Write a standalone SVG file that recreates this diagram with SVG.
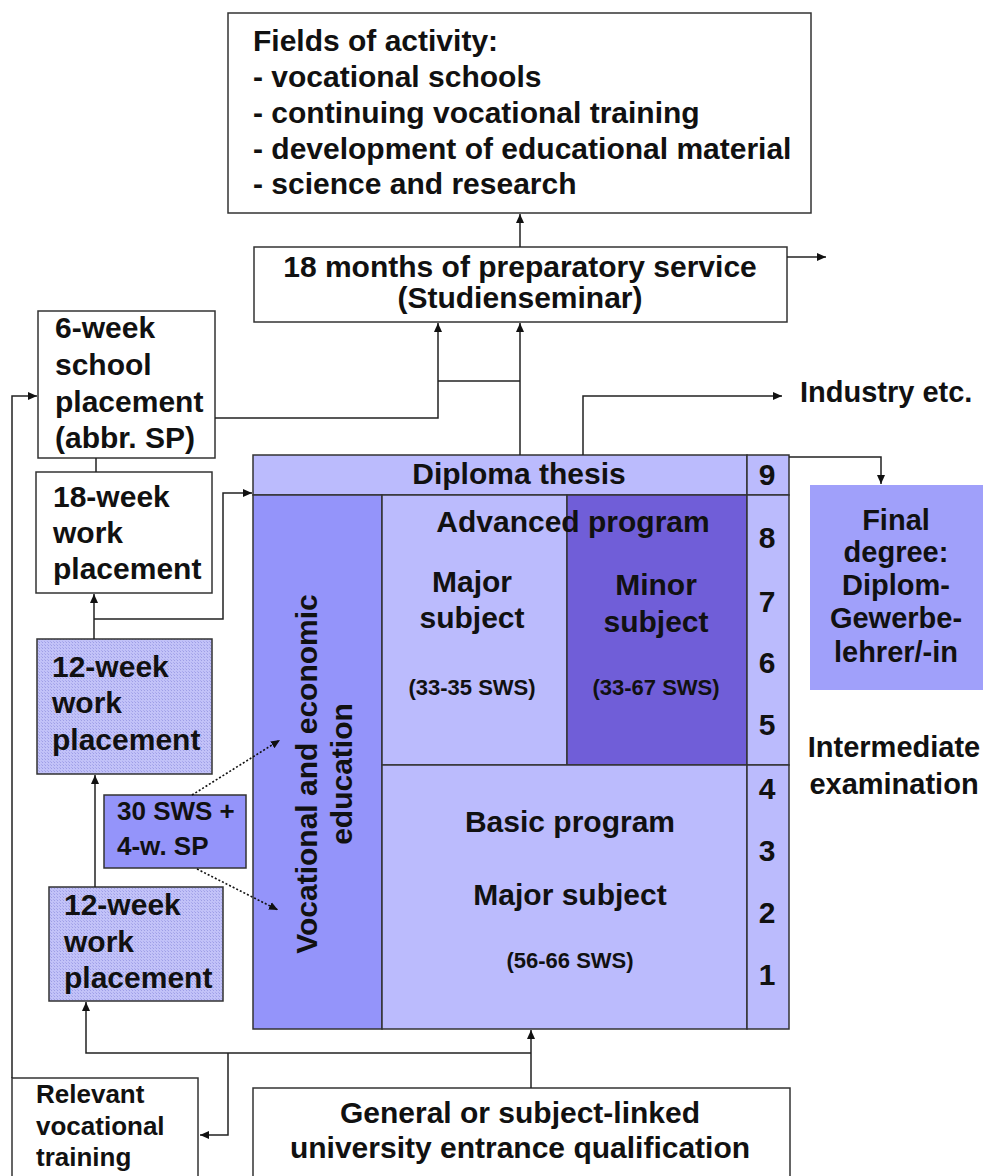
<svg xmlns="http://www.w3.org/2000/svg" width="985" height="1176" viewBox="0 0 985 1176">
<defs>
<style>
text{font-family:"Liberation Sans",Arial,sans-serif;font-weight:bold;fill:#111;}
.t30{font-size:30px;}
.t29{font-size:29px;}
.t26{font-size:26px;}
.t22{font-size:22px;}
.mid{text-anchor:middle;}
.box{fill:#fff;stroke:#333;stroke-width:1.5;}
.light{fill:#bbbbfd;stroke:#333;stroke-width:1.5;}
.med{fill:#9494fa;stroke:#333;stroke-width:1.5;}
.dark{fill:#705ed8;stroke:#333;stroke-width:1.5;}
.dith{fill:url(#dither);stroke:#333;stroke-width:1.5;}
.c{fill:none;stroke:#222;stroke-width:1.5;}
.d{fill:none;stroke:#111;stroke-width:1.6;stroke-dasharray:2 2;}
</style>
<pattern id="dither" width="3" height="3" patternUnits="userSpaceOnUse">
<rect width="3" height="3" fill="#c2c2f8"/>
<rect width="1" height="1" fill="#9e9ee6"/>
<rect x="2" y="2" width="1" height="1" fill="#aaaaee"/>
</pattern>
<marker id="ah" markerWidth="10" markerHeight="10" refX="9" refY="5" orient="auto" markerUnits="userSpaceOnUse">
<path d="M0,1 L9,5 L0,9 Z" fill="#111"/>
</marker>
</defs>

<g id="fields">
<rect class="box" x="228" y="13" width="583" height="200"/>
<text class="t30" x="253" y="51">Fields of activity:</text>
<text class="t30" x="253" y="87">- vocational schools</text>
<text class="t30" x="253" y="123">- continuing vocational training</text>
<text class="t30" x="253" y="159">- development of educational material</text>
<text class="t30" x="253" y="194">- science and research</text>
</g>

<g id="prep">
<rect class="box" x="254" y="247" width="533" height="75"/>
<text class="t30 mid" x="520" y="277">18 months of preparatory service</text>
<text class="t30 mid" x="520" y="308">(Studienseminar)</text>
</g>

<g id="industry">
<text class="t29" x="800" y="402">Industry etc.</text>
</g>

<g id="sp6">
<rect class="box" x="38" y="311" width="177" height="147"/>
<text class="t30" x="55" y="338">6-week</text>
<text class="t30" x="55" y="375">school</text>
<text class="t30" x="55" y="412">placement</text>
<text class="t30" x="55" y="448">(abbr. SP)</text>
</g>

<g id="wp18">
<rect class="box" x="36" y="472" width="176" height="121"/>
<text class="t30" x="53" y="507">18-week</text>
<text class="t30" x="53" y="543">work</text>
<text class="t30" x="53" y="579">placement</text>
</g>

<g id="wp12a">
<rect class="dith" x="37" y="639" width="175" height="135"/>
<text class="t30" x="52" y="677">12-week</text>
<text class="t30" x="52" y="713">work</text>
<text class="t30" x="52" y="750">placement</text>
</g>

<g id="sws30">
<rect class="med" x="104" y="795" width="142" height="73"/>
<text class="t26" x="117" y="820">30 SWS +</text>
<text class="t26" x="117" y="855">4-w. SP</text>
</g>

<g id="wp12b">
<rect class="dith" x="49" y="887" width="174" height="114"/>
<text class="t30" x="64" y="915">12-week</text>
<text class="t30" x="64" y="952">work</text>
<text class="t30" x="64" y="988">placement</text>
</g>

<g id="program">
<rect class="light" x="253" y="455" width="494" height="40"/>
<text class="t30 mid" x="519" y="484">Diploma thesis</text>
<rect class="med" x="253" y="495" width="129" height="534"/>
<text class="t30 mid" transform="translate(317,774) rotate(-90)" x="0" y="0">Vocational and economic</text>
<text class="t30 mid" transform="translate(352,774) rotate(-90)" x="0" y="0">education</text>
<rect class="light" x="382" y="495" width="185" height="270"/>
<rect class="dark" x="567" y="495" width="180" height="270"/>
<text class="t30 mid" x="573" y="532">Advanced program</text>
<text class="t30 mid" x="472" y="592">Major</text>
<text class="t30 mid" x="472" y="628">subject</text>
<text class="t22 mid" x="472" y="695">(33-35 SWS)</text>
<text class="t30 mid" x="656" y="595">Minor</text>
<text class="t30 mid" x="656" y="632">subject</text>
<text class="t22 mid" x="656" y="695">(33-67 SWS)</text>
<rect class="light" x="382" y="765" width="365" height="264"/>
<text class="t30 mid" x="570" y="832">Basic program</text>
<text class="t30 mid" x="570" y="905">Major subject</text>
<text class="t22 mid" x="570" y="968">(56-66 SWS)</text>
</g>

<g id="semesters">
<rect class="light" x="747" y="455" width="42" height="40"/>
<rect class="light" x="747" y="495" width="42" height="270"/>
<rect class="light" x="747" y="765" width="42" height="264"/>
<text class="t30 mid" x="767" y="485">9</text>
<text class="t30 mid" x="767" y="548">8</text>
<text class="t30 mid" x="767" y="612">7</text>
<text class="t30 mid" x="767" y="673">6</text>
<text class="t30 mid" x="767" y="735">5</text>
<text class="t30 mid" x="767" y="799">4</text>
<text class="t30 mid" x="767" y="861">3</text>
<text class="t30 mid" x="767" y="923">2</text>
<text class="t30 mid" x="767" y="985">1</text>
</g>

<g id="final">
<rect x="810" y="485" width="173" height="205" fill="#a0a0fa"/>
<text class="t29 mid" x="896" y="530">Final</text>
<text class="t29 mid" x="896" y="562">degree:</text>
<text class="t29 mid" x="896" y="595">Diplom-</text>
<text class="t29 mid" x="896" y="628">Gewerbe-</text>
<text class="t29 mid" x="896" y="662">lehrer/-in</text>
</g>

<g id="intermediate">
<text class="t29 mid" x="894" y="757">Intermediate</text>
<text class="t29 mid" x="894" y="794">examination</text>
</g>

<g id="relevant">
<rect class="box" x="12" y="1078" width="186" height="110"/>
<text class="t26" x="36" y="1103">Relevant</text>
<text class="t26" x="36" y="1135">vocational</text>
<text class="t26" x="36" y="1166">training</text>
</g>

<g id="entrance">
<rect class="box" x="253" y="1088" width="537" height="100"/>
<text class="t30 mid" x="520" y="1123">General or subject-linked</text>
<text class="t30 mid" x="520" y="1158">university entrance qualification</text>
</g>

<g id="connectors">
<path class="c" d="M520,247 L520,214" marker-end="url(#ah)"/>
<path class="c" d="M787,257 L826,257" marker-end="url(#ah)"/>
<path class="c" d="M520,455 L520,323" marker-end="url(#ah)"/>
<path class="c" d="M215,418 L438,418 L438,323" marker-end="url(#ah)"/>
<path class="c" d="M438,381 L520,381"/>
<path class="c" d="M583,455 L583,396 L782,396" marker-end="url(#ah)"/>
<path class="c" d="M789,457 L881,457 L881,484" marker-end="url(#ah)"/>
<path class="c" d="M96,458 L96,472"/>
<path class="c" d="M94,639 L94,594" marker-end="url(#ah)"/>
<path class="c" d="M94,619 L223,619 L223,493 L252,493" marker-end="url(#ah)"/>
<path class="c" d="M95,887 L95,775" marker-end="url(#ah)"/>
<path class="d" d="M192,795 L280,740" marker-end="url(#ah)"/>
<path class="d" d="M197,869 L278,910" marker-end="url(#ah)"/>
<path class="c" d="M531,1088 L531,1030" marker-end="url(#ah)"/>
<path class="c" d="M531,1053 L86,1053 L86,1002" marker-end="url(#ah)"/>
<path class="c" d="M228,1053 L228,1135 L200,1135" marker-end="url(#ah)"/>
<path class="c" d="M12,1078 L12,396 L37,396" marker-end="url(#ah)"/>
</g>
</svg>
